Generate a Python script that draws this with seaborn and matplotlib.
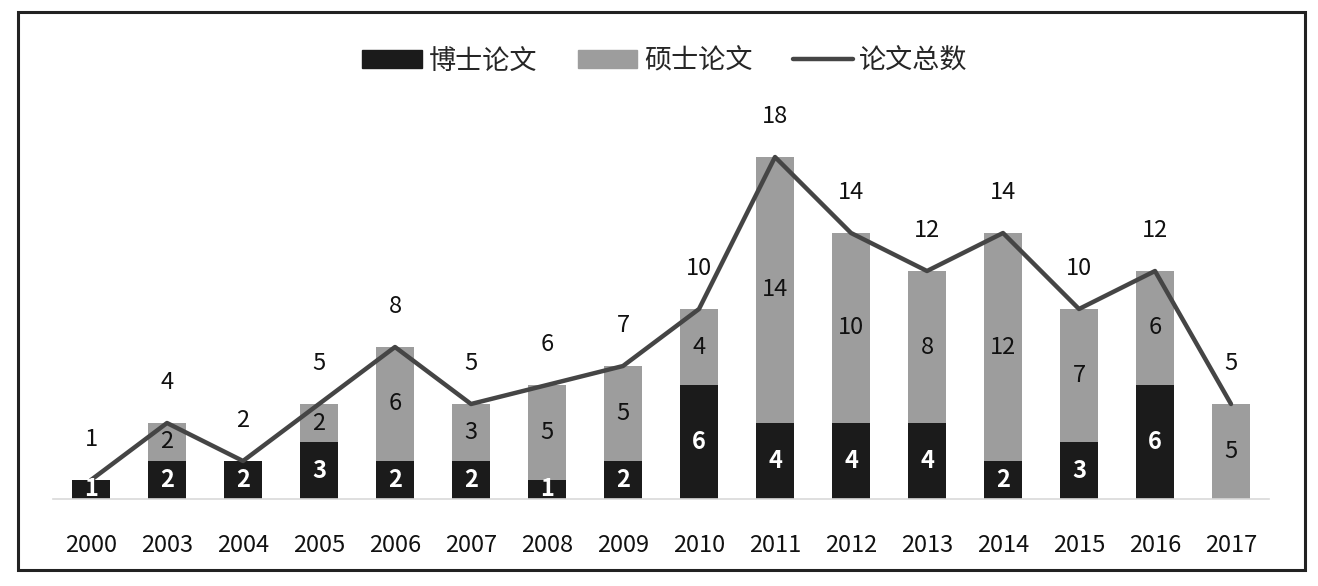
import numpy as np
import pandas as pd
import matplotlib
matplotlib.use("Agg")
import matplotlib.pyplot as plt
import seaborn as sns
from matplotlib.patches import Rectangle, Patch
from matplotlib.lines import Line2D

years = ["2000", "2003", "2004", "2005", "2006", "2007", "2008", "2009",
         "2010", "2011", "2012", "2013", "2014", "2015", "2016", "2017"]
phd = [1, 2, 2, 3, 2, 2, 1, 2, 6, 4, 4, 4, 2, 3, 6, 0]
master = [0, 2, 0, 2, 6, 3, 5, 5, 4, 14, 10, 8, 12, 7, 6, 5]
total = [1, 4, 2, 5, 8, 5, 6, 7, 10, 18, 14, 12, 14, 10, 12, 5]

sns.set_theme(style="white")
plt.rcParams['font.family'] = ['Noto Sans CJK SC', 'DejaVu Sans']

W, H = 1318, 586
fig = plt.figure(figsize=(W / 100, H / 100), dpi=100)
ax = fig.add_axes([53 / W, (H - 499) / H, (1269 - 53) / W, (499 - 100) / H])

df = pd.DataFrame({"year": years, "phd": phd, "master": master, "total": total})
GRAY = "#9d9d9d"
BLACK = "#1b1b1b"
LINE = "#454545"

sns.barplot(data=df, x="year", y="total", color=GRAY, width=0.5, saturation=1,
            ax=ax, order=years, linewidth=0, edgecolor=GRAY)
sns.barplot(data=df, x="year", y="phd", color=BLACK, width=0.5, saturation=1,
            ax=ax, order=years, linewidth=0, edgecolor=BLACK)
xs = np.arange(len(years))
sns.lineplot(x=xs, y=total, color=LINE, linewidth=3.2, ax=ax)

ax.set_xlim(-0.5, len(years) - 0.5)
ax.set_ylim(0, 21)
ax.set_xlabel("")
ax.set_ylabel("")
ax.set_yticks([])
for s in ["top", "right", "left"]:
    ax.spines[s].set_visible(False)
ax.spines["bottom"].set_color("#d9d9d9")
ax.spines["bottom"].set_linewidth(1.2)
ax.tick_params(axis="x", length=0, pad=25.5, labelsize=17, colors="#111111")

FS = 17
for i in range(len(years)):
    if phd[i] > 0:
        ax.text(xs[i], phd[i] / 2, str(phd[i]), ha="center", va="center",
                color="white", fontsize=FS, fontweight="bold")
    if master[i] > 0:
        ax.text(xs[i], phd[i] + master[i] / 2, str(master[i]), ha="center",
                va="center", color="#111111", fontsize=FS)
    ax.annotate(str(total[i]), (xs[i], total[i]), xytext=(0, 29),
                textcoords="offset points", ha="center", va="center",
                fontsize=FS, color="#111111")

handles = [Patch(facecolor=BLACK, edgecolor=BLACK),
           Patch(facecolor=GRAY, edgecolor=GRAY),
           Line2D([0], [0], color=LINE, linewidth=3.2)]
labels = ["博士论文", "硕士论文", "论文总数"]
fig.legend(handles, labels, loc="center", bbox_to_anchor=(665 / W, 1 - 61 / H),
           ncol=3, frameon=False, fontsize=19.5, handlelength=2.2,
           handleheight=0.63, handletextpad=0.25, columnspacing=1.5,
           borderpad=0, borderaxespad=0)

fig.patches.append(Rectangle((18 / W, 1 - 570 / H), (1305 - 18) / W, (570 - 12) / H,
                             transform=fig.transFigure, fill=False,
                             edgecolor="#222222", linewidth=2.2))

fig.savefig("out.png", dpi=100)
